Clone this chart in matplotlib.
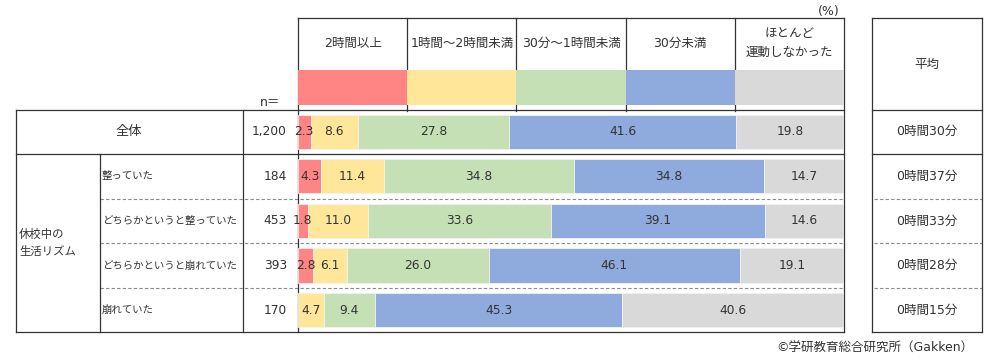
import matplotlib
matplotlib.use("Agg")
import matplotlib.pyplot as plt
from matplotlib.patches import Rectangle

plt.rcParams['font.family'] = ['DejaVu Sans', 'Noto Sans CJK JP']

# ---- data ----
categories = ["2時間以上", "1時間～2時間未満", "30分～1時間未満", "30分未満", "ほとんど\n運動しなかった"]
colors = ["#FF8585", "#FFE699", "#C5E0B4", "#8FAADC", "#D9D9D9"]
row_labels = ["全体", "整っていた", "どちらかというと整っていた", "どちらかというと崩れていた", "崩れていた"]
group_label = "休校中の\n生活リズム"
n_values = ["1,200", "184", "453", "393", "170"]
averages = ["0時間30分", "0時間37分", "0時間33分", "0時間28分", "0時間15分"]
values = [
    [2.3, 8.6, 27.8, 41.6, 19.8],
    [4.3, 11.4, 34.8, 34.8, 14.7],
    [1.8, 11.0, 33.6, 39.1, 14.6],
    [2.8, 6.1, 26.0, 46.1, 19.1],
    [0.0, 4.7, 9.4, 45.3, 40.6],
]

W, H = 1000, 364
fig = plt.figure(figsize=(W / 100, H / 100), dpi=100)
txt = "#333333"
line_c = "#333333"
FS = 9.0
FS_NUM = 8.8
FS_SUB = 7.5

# geometry (pixels)
bx0, bx1 = 298, 844
top = 18
y_head = 109.5
y_bot = 332.3
row_h = (y_bot - y_head) / len(row_labels)
ax_x0, ax_x1 = 872, 982

# overlay axes in pixel coordinates
ov = fig.add_axes([0, 0, 1, 1])
ov.set_xlim(0, W)
ov.set_ylim(H, 0)
ov.axis("off")
ov.patch.set_visible(False)

lw = 0.9
def hline(y, x0, x1, dashed=False):
    if dashed:
        ov.plot([x0, x1], [y, y], color="#8a8a8a", lw=0.8, ls=(0, (3, 2)), zorder=1)
    else:
        ov.plot([x0, x1], [y, y], color=line_c, lw=lw, zorder=1)
def vline(x, y0, y1):
    ov.plot([x, x], [y0, y1], color=line_c, lw=lw, zorder=1)

row_edges = [y_head + i * row_h for i in range(len(row_labels) + 1)]

# main table frame
hline(top, bx0, bx1)
hline(y_head, 16, bx1)
hline(row_edges[1], 16, bx1)
hline(y_bot, 16, bx1)
for e in row_edges[2:-1]:
    hline(e, 99.5, bx1, dashed=True)
vline(16, y_head, y_bot)
vline(99.5, row_edges[1], y_bot)
vline(242.5, y_head, y_bot)
vline(bx0, top, y_bot)
vline(bx1, top, y_bot)

# header columns
ncat = len(categories)
cw = (bx1 - bx0) / ncat
for k in range(1, ncat):
    vline(bx0 + k * cw, top, y_head + 1)
for k, (c, col) in enumerate(zip(categories, colors)):
    cx = bx0 + (k + 0.5) * cw
    ov.text(cx, 43, c, ha="center", va="center", fontsize=FS, color=txt,
            linespacing=1.5)
    ov.add_patch(Rectangle((bx0 + k * cw, 70), cw, 35, facecolor=col,
                           edgecolor="none", zorder=2))

ov.text(829, 11, "(%)", ha="center", va="center", fontsize=FS, color=txt)
ov.text(270, 102, "n＝", ha="center", va="center", fontsize=FS, color=txt)

# average column
hline(top, ax_x0, ax_x1)
hline(y_head, ax_x0, ax_x1)
hline(row_edges[1], ax_x0, ax_x1)
hline(y_bot, ax_x0, ax_x1)
for e in row_edges[2:-1]:
    hline(e, ax_x0 + 2, ax_x1, dashed=True)
vline(ax_x0, top, y_bot)
vline(ax_x1, top, y_bot)
ax_cx = (ax_x0 + ax_x1) / 2
ov.text(ax_cx, 64, "平均", ha="center", va="center", fontsize=FS, color=txt)

# row texts
for i, (lab, n, avg) in enumerate(zip(row_labels, n_values, averages)):
    cy = y_head + (i + 0.5) * row_h
    if i == 0:
        ov.text((16 + 242.5) / 2, cy, lab, ha="center", va="center", fontsize=9.5, color=txt)
    else:
        ov.text(102, cy, lab, ha="left", va="center", fontsize=FS_SUB, color=txt)
    ov.text(287, cy, n, ha="right", va="center", fontsize=FS_NUM, color=txt)
    ov.text(ax_cx, cy, avg, ha="center", va="center", fontsize=FS, color=txt)

ov.text(19, (row_edges[1] + y_bot) / 2, group_label, ha="left", va="center",
        fontsize=8.2, color=txt, linespacing=1.7)

ov.text(973, 348, "©学研教育総合研究所（Gakken）", ha="right", va="center",
        fontsize=FS, color=txt)

# bars axes
bax = fig.add_axes([bx0 / W, 1 - y_bot / H, (bx1 - bx0) / W, (y_bot - y_head) / H])
bax.set_xlim(0, 100)
bax.set_ylim(len(row_labels) - 0.5, -0.5)
bax.axis("off")
bax.patch.set_visible(False)
bax.set_zorder(ov.get_zorder() + 1)

for i, row in enumerate(values):
    left = 0.0
    for k, v in enumerate(row):
        if v > 0:
            bax.barh(i, v, left=left, height=0.77, color=colors[k],
                     edgecolor="#f2f2f2", linewidth=0.6)
            bax.text(left + v / 2, i, f"{v:.1f}", ha="center", va="center",
                     fontsize=FS_NUM, color=txt)
        left += v

fig.savefig("out.png", dpi=100)
